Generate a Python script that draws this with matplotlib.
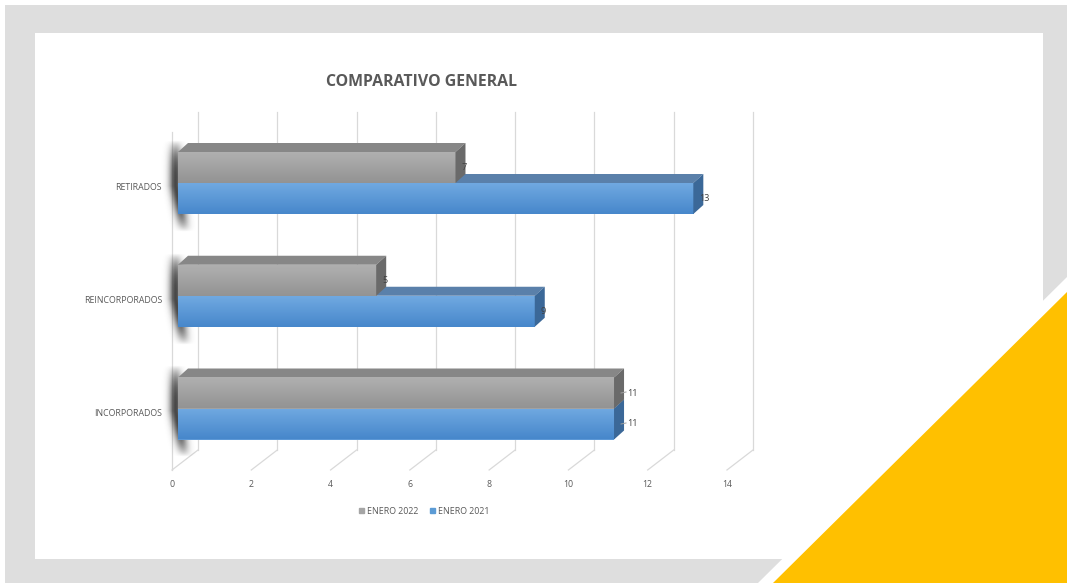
import numpy as np
import matplotlib
matplotlib.use("Agg")
import matplotlib.pyplot as plt
from matplotlib.patches import Rectangle, Polygon, Patch
from matplotlib.colors import LinearSegmentedColormap

# data
categories = ["INCORPORADOS", "REINCORPORADOS", "RETIRADOS"]
enero_2022 = [11, 5, 7]
enero_2021 = [11, 9, 13]
ticks = [0, 2, 4, 6, 8, 10, 12, 14]

W, H = 1067, 583
plt.rcParams["font.family"] = ["Open Sans", "DejaVu Sans"]
fig = plt.figure(figsize=(W / 100, H / 100), dpi=100)

# slide background (pixel coords)
bg = fig.add_axes([0, 0, 1, 1])
bg.set_xlim(0, W); bg.set_ylim(H, 0); bg.axis("off")
bg.add_patch(Rectangle((5, 5), W - 5, H - 5, color="#dedede", lw=0))
bg.add_patch(Rectangle((35, 33), 1008, 526, color="white", lw=0))
bg.add_patch(Polygon([(758, H), (W, 277), (W, H)], color="white", lw=0))
bg.add_patch(Polygon([(773, H), (W, 292), (W, H)], color="#ffc000", lw=0))

# chart axes: x in values, y in category units
PXV = 39.64          # px per value unit
PXC = 112.75         # px per category
X0, C0 = 178, 408.5  # px of value 0 / category 0 (front face)
def c_of(py): return (C0 - py) / PXC
x_left, x_right = 160, X0 + 14 * PXV
y_bot, y_top = 470, 112
ax = fig.add_axes([x_left / W, 1 - y_bot / H, (x_right - x_left) / W, (y_bot - y_top) / H])
ax.set_xlim((x_left - X0) / PXV, 14); ax.set_ylim(c_of(y_bot), c_of(y_top)); ax.axis("off")

DX, DY = 10 / PXV, 9 / PXC          # bar depth
BACK_X = 20 / PXV                    # back wall offset from bars
FRONT_X = -6 / PXV                   # floor front edge
floor_front = c_of(470); floor_back = c_of(450); wall_top = c_of(112)
grid_c = "#d9d9d9"

# walls, floor
for t in ticks:
    ax.plot([t + BACK_X, t + BACK_X], [floor_back, wall_top], color=grid_c, lw=0.9, clip_on=False, zorder=1)
    ax.plot([t + FRONT_X, t + BACK_X], [floor_front, floor_back], color=grid_c, lw=0.9, clip_on=False, zorder=1)
ax.plot([FRONT_X, FRONT_X], [floor_front, wall_top - (floor_back - floor_front)], color=grid_c,
        lw=0.9, clip_on=False, zorder=1)

bar_h = 31 / PXC
gray_grad = LinearSegmentedColormap.from_list("g", ["#939393", "#b0b0b0"])
blue_grad = LinearSegmentedColormap.from_list("b", ["#4787cb", "#70a9e1"])
grad = np.linspace(0, 1, 64).reshape(-1, 1)

def bar3d(v, y0, y1, cmap, top_c, side_c, z):
    ax.barh(y0, v, height=y1 - y0, left=0, align="edge", color=cmap(0.5), lw=0, zorder=z)
    ax.imshow(grad, cmap=cmap, extent=(0, v, y0, y1), origin="lower", aspect="auto",
              zorder=z + 0.1, interpolation="bilinear")
    ax.add_patch(Polygon([(0, y1), (v, y1), (v + DX, y1 + DY), (DX, y1 + DY)],
                         color=top_c, lw=0, zorder=z, clip_on=False))
    ax.add_patch(Polygon([(v, y0), (v, y1), (v + DX, y1 + DY), (v + DX, y0 + DY)],
                         color=side_c, lw=0, zorder=z + 0.2, clip_on=False))

# soft shadow on the left wall behind each pair of bars
xs = np.linspace(-0.45, 0.6, 90)
for i in range(len(categories)):
    ys = np.linspace(i - bar_h - 26 / PXC, i + bar_h + 20 / PXC, 110)
    X, Y = np.meshgrid(xs, ys)
    yc, half = i - 3 / PXC, bar_h + 15 / PXC
    wy = np.clip(1 - np.abs((Y - yc) / half) ** 3, 0, 1)
    cx = -0.06 + 0.22 * np.clip((yc - Y) / half, 0, 1)
    a = np.exp(-((X - cx) / 0.16) ** 2) * wy
    img = np.zeros(X.shape + (4,)); img[..., :3] = 0.15; img[..., 3] = 0.85 * a
    ax.imshow(img, extent=(xs[0], xs[-1], ys[0], ys[-1]), origin="lower", aspect="auto",
              zorder=2, interpolation="bilinear", clip_on=False)

for i, (g, b) in enumerate(zip(enero_2022, enero_2021)):
    bar3d(b, i - bar_h, i, blue_grad, "#5a80aa", "#3b6898", 3)
    bar3d(g, i, i + bar_h, gray_grad, "#878787", "#6a6a6a", 4)
    for v, yc in ((g, i + bar_h / 2), (b, i - bar_h / 2)):
        off = 6 / PXV
        if v == 11:
            off = 13 / PXV
            ax.plot([v + 7 / PXV, v + 12 / PXV], [yc, yc + 1 / PXC], color="#a0a0a0", lw=0.7,
                    clip_on=False, zorder=6)
        ax.text(v + off, yc, str(v), fontsize=6.5, color="#404040", ha="left", va="center",
                zorder=7, clip_on=False)
    ax.text(-16 / PXV, i - 5 / PXC, categories[i], fontsize=6.3, color="#595959",
            ha="right", va="center")

for t in ticks:
    ax.text(t + FRONT_X, c_of(485), str(t), fontsize=6.3, color="#595959", ha="center", va="center")

fig.text(422 / W, 1 - 82 / H, "COMPARATIVO GENERAL", fontsize=11.4, fontweight="bold",
         color="#595959", ha="center", va="center")
handles = [Patch(color="#a5a5a5", label="ENERO 2022"), Patch(color="#5b9bd5", label="ENERO 2021")]
fig.legend(handles=handles, loc="center", bbox_to_anchor=(424 / W, 1 - 511 / H), ncol=2,
           frameon=False, fontsize=6.4, handlelength=0.6, handleheight=0.6, handletextpad=0.3,
           columnspacing=1.3, labelcolor="#595959")

fig.savefig("out.png", dpi=100)
